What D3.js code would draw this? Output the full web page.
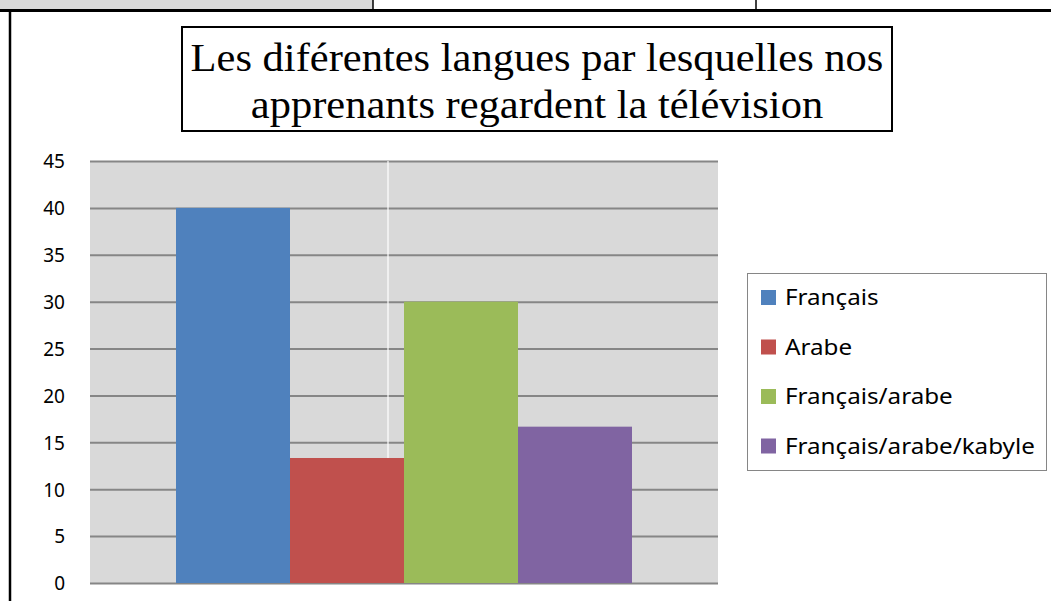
<!DOCTYPE html>
<html><head><meta charset="utf-8">
<script src="https://cdn.jsdelivr.net/npm/d3@7"></script>
<style>body{margin:0;background:#fff}svg{display:block}</style>
</head><body>
<svg id="c" width="1051" height="601"></svg>
<script>
const titleLines = ["Les diférentes langues par lesquelles nos", "apprenants regardent la télévision"];
const series = ["Français", "Arabe", "Français/arabe", "Français/arabe/kabyle"];
const values = [40, 13.33, 30, 16.67];
const colors = ["#4F81BD", "#C0504D", "#9BBB59", "#8064A2"];
const yTicks = [0, 5, 10, 15, 20, 25, 30, 35, 40, 45];

(function () {
const svg = d3.select("#c");
// document table fragments
svg.append("rect").attr("x", 0).attr("y", 0).attr("width", 373).attr("height", 10).attr("fill", "#d9d9d9");
svg.append("line").attr("x1", 373).attr("x2", 373).attr("y1", 0).attr("y2", 10).attr("stroke", "#000").attr("stroke-width", 1.5);
svg.append("line").attr("x1", 756).attr("x2", 756).attr("y1", 0).attr("y2", 10).attr("stroke", "#000").attr("stroke-width", 1.5);
svg.append("line").attr("x1", 0).attr("x2", 1051).attr("y1", 10.5).attr("y2", 10.5).attr("stroke", "#000").attr("stroke-width", 3);
svg.append("line").attr("x1", 10).attr("x2", 10).attr("y1", 10).attr("y2", 601).attr("stroke", "#000").attr("stroke-width", 2.5);

// title box
svg.append("rect").attr("x", 182).attr("y", 27).attr("width", 710).attr("height", 104)
  .attr("fill", "#fff").attr("stroke", "#000").attr("stroke-width", 2);
const tg = svg.append("g").attr("transform", "translate(537,0)");
const tt = tg.selectAll("text").data(titleLines).join("text")
  .attr("x", 0).attr("y", (d, i) => 71 + i * 47)
  .attr("text-anchor", "middle")
  .attr("font-family", "Liberation Serif, Times New Roman, serif")
  .attr("font-size", 39).attr("fill", "#000").text(d => d);
const tw = tt.node().getComputedTextLength();
tg.attr("transform", `translate(537,0) scale(${693 / tw},1)`);

// plot
const pL = 90, pR = 718, pT = 161, pB = 583;
const y = d3.scaleLinear().domain([0, 45]).range([pB, pT]);
const x = d3.scaleBand().domain(series).range([176, 632]).padding(0);

svg.append("rect").attr("x", pL).attr("y", pT).attr("width", pR - pL).attr("height", pB - pT).attr("fill", "#d9d9d9");
const yAxis = d3.axisLeft(y).tickValues(yTicks).tickSize(-(pR - pL)).tickFormat(d3.format("d"));
const ga = svg.append("g").attr("transform", `translate(${pL},0)`).call(yAxis);
ga.select(".domain").remove();
ga.selectAll(".tick line").attr("stroke", "#868686").attr("stroke-width", 2);
ga.selectAll(".tick text").attr("x", -25).attr("dy", "0.36em")
  .attr("font-family", "Noto Sans, Open Sans, sans-serif").attr("font-size", 19).attr("fill", "#000");

// white separator
svg.append("line").attr("x1", 388).attr("x2", 388).attr("y1", pT).attr("y2", pB).attr("stroke", "#fff").attr("stroke-width", 1.2);

svg.append("g").selectAll("rect").data(series).join("rect")
  .attr("x", d => x(d)).attr("width", x.bandwidth())
  .attr("y", (d, i) => y(values[i])).attr("height", (d, i) => pB - y(values[i]))
  .attr("fill", (d, i) => colors[i]);

// legend
svg.append("rect").attr("x", 747.5).attr("y", 273.5).attr("width", 299).attr("height", 197)
  .attr("fill", "#fff").attr("stroke", "#868686").attr("stroke-width", 1);
const lg = svg.append("g").selectAll("g").data(series).join("g")
  .attr("transform", (d, i) => `translate(761,${305 + i * 49.5})`);
lg.append("rect").attr("x", 0).attr("y", -15).attr("width", 15).attr("height", 15).attr("fill", (d, i) => colors[i]);
const lt = lg.append("text").attr("transform", "translate(24,0)")
  .attr("font-family", "Noto Sans, Open Sans, sans-serif").attr("font-size", 22).attr("fill", "#000").text(d => d);
const lw = d3.max(lt.nodes(), n => n.getComputedTextLength());
lt.attr("transform", `translate(24,0) scale(${250 / lw},1)`);
})();
</script>
</body></html>
